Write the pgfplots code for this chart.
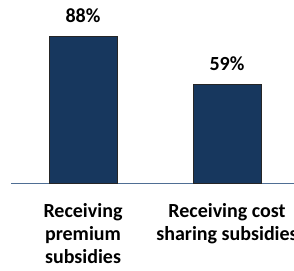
\documentclass[border=0pt]{standalone}
\usepackage{pgfplots}
\pgfplotsset{compat=1.18}
\usepackage{fontspec}
\setmainfont{Carlito}
\definecolor{barnavy}{HTML}{17375E}
\definecolor{axisblue}{HTML}{4F6E94}
\begin{document}
\begin{tikzpicture}
\begin{axis}[
  scale only axis,
  width=288bp, height=183.7bp,
  xmin=-0.5, xmax=1.5, ymin=0, ymax=110,
  axis y line=none,
  axis x line*=bottom,
  x axis line style={draw=axisblue, line width=0.9bp, -},
  xtick={0,1},
  xticklabels={{Receiving\\premium\\subsidies},{Receiving cost\\sharing subsidies}},
  major tick length=0pt,
  xticklabel style={anchor=north, inner sep=0pt, yshift=-20bp, align=center,
    font=\fontsize{20bp}{23bp}\selectfont\bfseries},
  ybar, bar width=68bp,
  clip=false,
  nodes near coords={\pgfmathprintnumber[assume math mode=true]{\pgfplotspointmeta}\%},
  every node near coord/.append style={anchor=south, inner sep=0pt, yshift=13bp,
    font=\fontsize{20bp}{22bp}\selectfont\bfseries, text=black},
]
\addplot[fill=barnavy, draw=black!85, line width=0.8bp] coordinates {(0,88) (1,59)};
\coordinate (bl) at (axis cs:-0.5764,-52.69);
\coordinate (tr) at (axis cs:1.4653,109.58);
\end{axis}
\pgfresetboundingbox
\useasboundingbox (bl) rectangle (tr);
\end{tikzpicture}
\end{document}
